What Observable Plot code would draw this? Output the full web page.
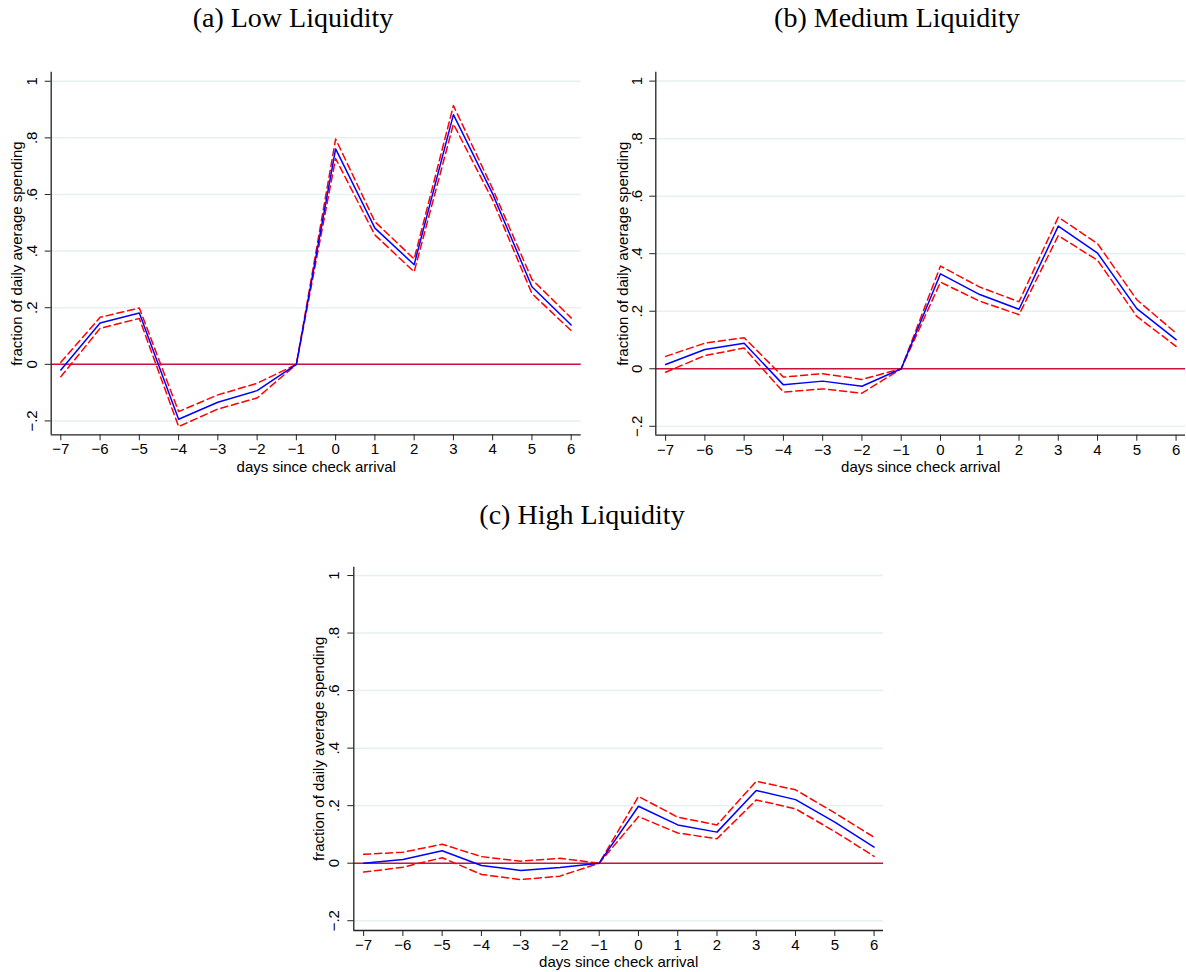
<!DOCTYPE html>
<html>
<head>
<meta charset="utf-8">
<script src="https://cdn.jsdelivr.net/npm/d3@7"></script>
<script src="https://cdn.jsdelivr.net/npm/@observablehq/plot@0.6"></script>
<style>
  html, body { margin: 0; padding: 0; background: #fff; }
  #root { position: relative; width: 1186px; height: 972px; background: #fff; overflow: hidden; }
  .title { position: absolute; font-family: "Liberation Serif", "Times New Roman", serif; font-size: 28px; text-align: center; line-height: 32px; color: #000; white-space: nowrap; }
  .panel { position: absolute; }
</style>
</head>
<body>
<div id="root"></div>
<script>
// ---- data ----
const days = [-7, -6, -5, -4, -3, -2, -1, 0, 1, 2, 3, 4, 5, 6];
const yTicks = [-0.2, 0, 0.2, 0.4, 0.6, 0.8, 1];
const yTickLabels = ["−.2", "0", ".2", ".4", ".6", ".8", "1"];
const xTickLabels = ["−7", "−6", "−5", "−4", "−3", "−2", "−1", "0", "1", "2", "3", "4", "5", "6"];
const titles = ["(a) Low Liquidity", "(b) Medium Liquidity", "(c) High Liquidity"];
const xLabel = "days since check arrival";
const yLabel = "fraction of daily average spending";

const lowEst   = [-0.020, 0.146, 0.181, -0.194, -0.134, -0.093, 0, 0.761, 0.481, 0.352, 0.882, 0.602, 0.274, 0.139];
const lowUpper = [0.007, 0.166, 0.199, -0.167, -0.108, -0.067, 0, 0.796, 0.504, 0.372, 0.914, 0.620, 0.300, 0.164];
const lowLower = [-0.044, 0.127, 0.162, -0.220, -0.158, -0.119, 0, 0.727, 0.457, 0.327, 0.849, 0.580, 0.250, 0.119];

const medEst   = [0.015, 0.067, 0.089, -0.056, -0.043, -0.061, 0, 0.330, 0.258, 0.207, 0.496, 0.402, 0.209, 0.101];
const medUpper = [0.043, 0.089, 0.108, -0.029, -0.017, -0.037, 0, 0.357, 0.284, 0.233, 0.527, 0.435, 0.240, 0.124];
const medLower = [-0.012, 0.046, 0.072, -0.081, -0.070, -0.085, 0, 0.301, 0.235, 0.188, 0.463, 0.377, 0.182, 0.078];

const highEst   = [0.000, 0.013, 0.043, -0.008, -0.025, -0.015, 0, 0.198, 0.133, 0.108, 0.253, 0.221, 0.143, 0.056];
const highUpper = [0.031, 0.038, 0.066, 0.023, 0.007, 0.017, 0, 0.232, 0.160, 0.133, 0.285, 0.255, 0.175, 0.090];
const highLower = [-0.031, -0.014, 0.019, -0.039, -0.057, -0.045, 0, 0.162, 0.105, 0.085, 0.220, 0.189, 0.110, 0.024];

// ---- styling ----
const blue = "#0000ff";
const red = "#ff0000";
const zeroColor = "#c8143c";
const gridColor = "#e6eff1";
const axisColor = "#222";
const font = "'Liberation Sans', Arial, sans-serif";

function panel(cfg) {
  const rows = days.map((d, i) => ({day: d, est: cfg.est[i], up: cfg.up[i], lo: cfg.lo[i]}));
  const xd = cfg.xDomain, yd = cfg.yDomain;
  return Plot.plot({
    width: cfg.width,
    height: cfg.height,
    marginLeft: cfg.ml, marginRight: cfg.mr, marginTop: cfg.mt, marginBottom: cfg.mb,
    style: {fontFamily: font, fontSize: "15px", background: "transparent", color: "#000", overflow: "visible"},
    x: {domain: xd},
    y: {domain: yd},
    marks: [
      Plot.gridY(yTicks, {stroke: gridColor, strokeOpacity: 1, strokeWidth: 1.5}),
      Plot.ruleY([0], {stroke: zeroColor, strokeWidth: 1.6}),
      Plot.line(rows, {x: "day", y: "up", stroke: red, strokeWidth: 1.5, strokeDasharray: "7,4"}),
      Plot.line(rows, {x: "day", y: "lo", stroke: red, strokeWidth: 1.5, strokeDasharray: "7,4"}),
      Plot.line(rows, {x: "day", y: "est", stroke: blue, strokeWidth: 1.5}),
      Plot.ruleX([xd[0]], {y1: yd[0], y2: yd[1], stroke: axisColor, strokeWidth: 1.3}),
      Plot.ruleY([yd[0]], {x1: xd[0], x2: xd[1], stroke: axisColor, strokeWidth: 1.3}),
      Plot.axisX({ticks: days, tickSize: 6, tickPadding: 3, tickFormat: (d) => xTickLabels[days.indexOf(d)], label: null, fontSize: 15, stroke: axisColor}),
      Plot.axisY({ticks: yTicks, tickSize: 6, tickFormat: () => "", label: null, stroke: axisColor}),
      Plot.text(yTicks, {x: xd[0], y: (d) => d, text: (d, i) => yTickLabels[i], rotate: -90, dx: cfg.tdx, fontSize: 15, textAnchor: "middle", lineAnchor: "middle"}),
      Plot.text([xLabel], {frameAnchor: "bottom", dy: cfg.xdy, text: (d) => d, fontSize: 15, textAnchor: "middle", lineAnchor: "middle"}),
      Plot.text([yLabel], {frameAnchor: "left", rotate: -90, dx: cfg.ydx, text: (d) => d, fontSize: 15, textAnchor: "middle", lineAnchor: "middle"})
    ]
  });
}

const root = document.getElementById("root");

function addTitle(text, cx, cy) {
  const t = document.createElement("div");
  t.className = "title";
  t.textContent = text;
  t.style.left = (cx - 200) + "px";
  t.style.width = "400px";
  t.style.top = (cy - 16) + "px";
  root.appendChild(t);
}

function addPanel(svg, left, top) {
  const w = document.createElement("div");
  w.className = "panel";
  w.style.left = left + "px";
  w.style.top = top + "px";
  w.appendChild(svg);
  root.appendChild(w);
}

addTitle(titles[0], 293, 18);
addTitle(titles[1], 897, 18);
addTitle(titles[2], 582, 515);

addPanel(panel({est: lowEst, up: lowUpper, lo: lowLower,
  xDomain: [-7.245, 6.255], yDomain: [-0.249, 1.032],
  width: 590, height: 430, ml: 50.7, mr: 9.3, mt: 21.7, mb: 45.7,
  tdx: -19, xdy: 32.4, ydx: -34}), 0, 50);

addPanel(panel({est: medEst, up: medUpper, lo: medLower,
  xDomain: [-7.25, 6.24], yDomain: [-0.231, 1.031],
  width: 593, height: 430, ml: 62.3, mr: 1, mt: 21.7, mb: 45.3,
  tdx: -19, xdy: 32.4, ydx: -33}), 593, 50);

addPanel(panel({est: highEst, up: highUpper, lo: highLower,
  xDomain: [-7.25, 6.24], yDomain: [-0.234, 1.029],
  width: 592, height: 427, ml: 57.3, mr: 5, mt: 21.7, mb: 42,
  tdx: -20, xdy: 31.7, ydx: -35}), 296, 545);
</script>
</body>
</html>
